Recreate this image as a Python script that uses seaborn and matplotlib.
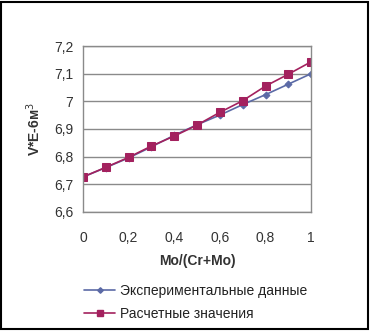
import pandas as pd
import matplotlib
matplotlib.use("Agg")
import matplotlib.pyplot as plt
import seaborn as sns
from matplotlib.patches import Rectangle
from matplotlib.lines import Line2D

# data
x_ratio = [0, 0.1, 0.2, 0.3, 0.4, 0.5, 0.6, 0.7, 0.8, 0.9, 1.0]
v_exp = [6.726, 6.760, 6.795, 6.835, 6.877, 6.915, 6.950, 6.988, 7.024, 7.062, 7.100]
v_calc = [6.726, 6.761, 6.797, 6.838, 6.874, 6.914, 6.960, 7.002, 7.055, 7.098, 7.143]
series_names = ["Экспериментальные данные", "Расчетные значения"]
y_ticks = [6.6, 6.7, 6.8, 6.9, 7.0, 7.1, 7.2]
y_tick_labels = ["6,6", "6,7", "6,8", "6,9", "7", "7,1", "7,2"]
x_ticks = [0, 0.2, 0.4, 0.6, 0.8, 1.0]
x_tick_labels = ["0", "0,2", "0,4", "0,6", "0,8", "1"]

df = pd.DataFrame({
    "x": x_ratio * 2,
    "v": v_exp + v_calc,
    "series": [series_names[0]] * len(x_ratio) + [series_names[1]] * len(x_ratio),
})

sns.set_theme(style="white")
plt.rcParams["font.family"] = ["Liberation Sans", "DejaVu Sans"]

fig = plt.figure(figsize=(3.7, 3.31), dpi=100)
ax = fig.add_axes([0.224, 0.36, 0.617, 0.501])

palette = {series_names[0]: "#5b6aa6", series_names[1]: "#a3215e"}
markers = {series_names[0]: "D", series_names[1]: "s"}
sizes = {series_names[0]: 3.5, series_names[1]: 6}

for name in series_names:
    sub = df[df["series"] == name]
    sns.lineplot(data=sub, x="x", y="v", ax=ax, color=palette[name],
                 marker=markers[name], markersize=sizes[name],
                 markeredgecolor=palette[name], linewidth=1.2, legend=False)

ax.set_xlim(0, 1)
ax.set_ylim(6.6, 7.2)
ax.set_yticks(y_ticks)
ax.set_yticklabels(y_tick_labels, fontsize=10)
ax.set_xticks(x_ticks)
ax.set_xticklabels(x_tick_labels, fontsize=10)
ax.tick_params(axis="x", pad=12, length=3, direction="inout", color="#808080")
ax.tick_params(axis="y", pad=4, length=3, direction="out", color="#808080")
for t in ax.get_xticklabels() + ax.get_yticklabels():
    t.set_color("#333333")

ax.yaxis.grid(True, color="#8a8a8a", linewidth=1)
ax.xaxis.grid(False)
for s in ax.spines.values():
    s.set_color("#8a8a8a")
    s.set_linewidth(1)

ax.set_xlabel("Mo/(Cr+Mo)", fontsize=10, fontweight="bold", labelpad=7, color="#333333")
ax.set_ylabel("V*E-6м$^3$", fontsize=10, fontweight="bold", labelpad=8, color="#333333")

handles = [Line2D([], [], color=palette[n], marker=markers[n], markersize=sizes[n] * 0.8,
                  markeredgecolor=palette[n], linewidth=1.2) for n in series_names]
fig.legend(handles, series_names, loc="upper left", bbox_to_anchor=(0.213, 0.16),
           frameon=False, handlelength=2.2, handletextpad=0.4,
           labelspacing=0.7, borderaxespad=0,
           prop={"size": 10}, labelcolor="#222222")

fig.patches.append(Rectangle((0.004, 0.005), 0.99, 0.99, transform=fig.transFigure,
                             fill=False, edgecolor="black", linewidth=1.5))

fig.savefig("out.png", dpi=100)
